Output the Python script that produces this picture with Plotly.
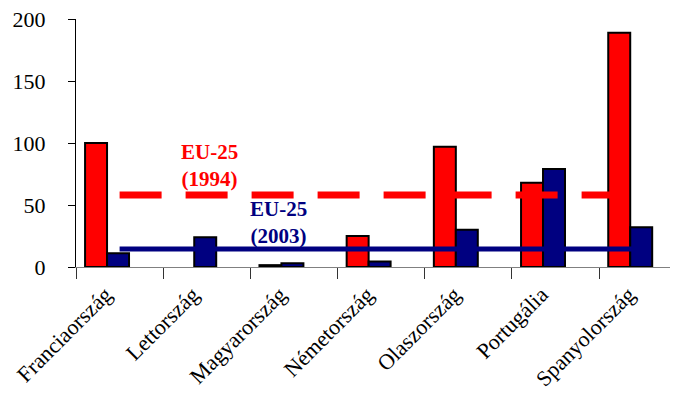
import plotly.graph_objects as go

categories = ["Franciaország", "Lettország", "Magyarország", "Németország",
              "Olaszország", "Portugália", "Spanyolország"]
values_1994 = [100, None, 1.5, 25, 97, 68, 189]
values_2003 = [11, 24, 3, 4.5, 30, 79, 32]
eu25_1994 = 58
eu25_2003 = 14.5
y_ticks = [0, 50, 100, 150, 200]

RED = "#FF0000"
NAVY = "#000080"
FONT = "Liberation Serif, Times New Roman, serif"

fig = go.Figure()
fig.add_trace(go.Bar(x=categories, y=values_1994, width=0.252, offset=-0.396,
                     marker=dict(color=RED, line=dict(color="black", width=2)),
                     name="1994"))
fig.add_trace(go.Bar(x=categories, y=values_2003, width=0.252, offset=-0.144,
                     marker=dict(color=NAVY, line=dict(color="black", width=2)),
                     name="2003"))
fig.add_trace(go.Scatter(x=[categories[0], categories[-1]], y=[eu25_1994, eu25_1994],
                         mode="lines", line=dict(color=RED, width=7, dash="42px,24px"),
                         name="EU-25 (1994)"))
fig.add_trace(go.Scatter(x=[categories[0], categories[-1]], y=[eu25_2003, eu25_2003],
                         mode="lines", line=dict(color=NAVY, width=5),
                         name="EU-25 (2003)"))

fig.add_annotation(x=1.03, y=82, xref="x", yref="y", text="<b>EU-25<br>(1994)</b>",
                   showarrow=False, font=dict(family=FONT, size=21, color=RED))
fig.add_annotation(x=1.82, y=36, xref="x", yref="y", text="<b>EU-25<br>(2003)</b>",
                   showarrow=False, font=dict(family=FONT, size=21, color=NAVY))

fig.update_layout(
    width=670, height=386,
    margin=dict(l=68, r=0, t=11, b=127, autoexpand=False),
    paper_bgcolor="white", plot_bgcolor="white",
    showlegend=False, barmode="overlay",
    font=dict(family=FONT, size=21, color="black"),
    xaxis=dict(type="category", range=[-0.5, 6.404], showgrid=False, zeroline=False,
               automargin=False, ticklabeloverflow="allow",
               showline=True, linecolor="#808080", linewidth=1,
               ticks="outside", tickson="boundaries", ticklen=11, tickcolor="#333333",
               tickangle=-45, ticklabelshift=-14, ticklabelstandoff=5,
               tickfont=dict(family=FONT, size=22, color="black")),
    yaxis=dict(range=[0, 200], tickvals=y_ticks, showgrid=False, zeroline=False,
               automargin=False, ticklabeloverflow="allow",
               showline=True, linecolor="black", linewidth=1,
               ticks="outside", ticklen=7, tickcolor="black", ticklabelstandoff=18,
               tickfont=dict(family=FONT, size=22, color="black")),
    yaxis2=dict(range=[0, 200], tickvals=y_ticks, overlaying="y", side="left",
                showgrid=False, zeroline=False, showline=False, automargin=False,
                ticks="inside", ticklen=5, tickcolor="black", showticklabels=False),
)

fig.write_html("out.html")
